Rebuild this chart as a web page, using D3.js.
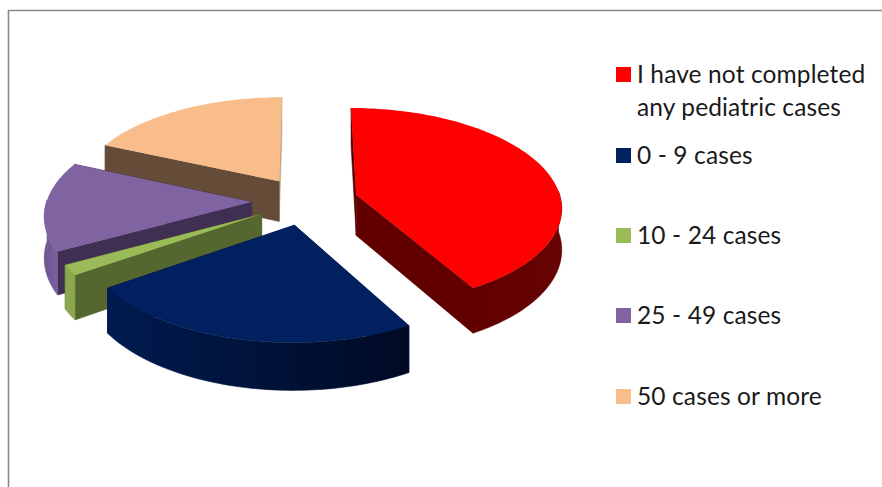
<!DOCTYPE html>
<html>
<head>
<meta charset="utf-8">
<script src="https://cdn.jsdelivr.net/npm/d3@7/dist/d3.min.js"></script>
<style>
html,body{margin:0;padding:0;background:#fff}
svg{display:block}
text{font-family:Lato,"Open Sans",sans-serif;fill:#1a1a1a}
</style>
</head>
<body>
<svg id="chart" width="882" height="487"></svg>
<script>
// Survey shares, in percent
const categories = ["I have not completed|any pediatric cases", "0 - 9 cases", "10 - 24 cases", "25 - 49 cases", "50 cases or more"];
const shares = [41.8, 23.6, 1.7, 14.5, 18.4];

// Fills per slice: top face, radial wall at the start edge, radial wall at the end edge, outer wall from/to
const topColors   = ["#ff0000", "#002060", "#9bbb59", "#8064a2", "#f8bd8b"];
const startWalls  = ["#5c0000", "#001a4d", "#55662e", "#3f2f52", "#654c38"];
const endWalls    = ["#620000", "#001a4d", "#55662e", "#3f2f52", "#c9a07c"];
const outerFrom   = ["#620000", "#001b50", "#8aa84e", "#6f5690", "#654c38"];
const outerTo     = ["#660404", "#000a24", "#8aa84e", "#7a5f9c", "#c9a07c"];
const explosions  = [0.255, 0.245, 0.25, 0.265, 0.245];
const legendRows  = [83, 164, 244, 324, 405];

const svg = d3.select("#chart");

// Chart frame: only its top and left edges fall inside the window
const frame = svg.append("g").attr("stroke", "#8a8a8a").attr("stroke-width", 1.6).attr("fill", "none");
frame.append("path").attr("d", "M8.5,487V10.5H882");

// Projection of the tilted disc: unit coordinates u (right) and v (towards the viewer)
const view = { cx: 306, cy: 201, rx: 205, ry: 98, persp: 0.115, depth: 41 };
const toX = d3.scaleLinear().domain([-1, 1]).range([-view.rx, view.rx]);
const toY = d3.scaleLinear().domain([-1, 1]).range([-view.ry, view.ry]);
function project(u, v, drop) {
  const s = 1 / (1 - view.persp * v);
  return [view.cx + toX(u) * s, view.cy + toY(v) * s + (drop ? view.depth * s : 0)];
}

const pieLayout = d3.pie().sort(null).value(d => d)(shares);
const line = d3.line();
const defs = svg.append("defs");

function rimPoints(d, ox, oy) {
  const n = Math.max(4, Math.ceil((d.endAngle - d.startAngle) * 40));
  return d3.range(n + 1).map(i => {
    const a = d.startAngle + (d.endAngle - d.startAngle) * i / n;
    return { a, u: ox + Math.sin(a), v: oy - Math.cos(a) };
  });
}

// Back-to-front painting order
const order = [4, 3, 2, 0, 1];
const pie = svg.append("g");

order.forEach(i => {
  const d = pieLayout[i];
  const mid = (d.startAngle + d.endAngle) / 2;
  const ox = Math.sin(mid) * explosions[i], oy = -Math.cos(mid) * explosions[i];
  const rim = rimPoints(d, ox, oy);
  const top = rim.map(p => project(p.u, p.v, false));
  const low = rim.map(p => project(p.u, p.v, true));
  const apexTop = project(ox, oy, false), apexLow = project(ox, oy, true);
  const g = pie.append("g");

  // Edge walls; a hairline of the same fill closes the seams between faces
  g.append("path").attr("fill", endWalls[i]).attr("stroke", endWalls[i]).attr("stroke-width", 0.6)
    .attr("d", line([apexTop, top[top.length - 1], low[low.length - 1], apexLow]) + "Z");
  g.append("path").attr("fill", startWalls[i]).attr("stroke", startWalls[i]).attr("stroke-width", 0.6)
    .attr("d", line([apexTop, top[0], low[0], apexLow]) + "Z");

  // Curved wall: only the stretch of the rim that faces the viewer
  const facing = rim.filter(p => -Math.cos(p.a) > -0.04);
  if (facing.length > 1) {
    const upper = facing.map(p => project(p.u, p.v, false));
    const lower = facing.map(p => project(p.u, p.v, true));
    const xs = upper.map(p => p[0]);
    const grad = defs.append("linearGradient").attr("id", "outer" + i)
      .attr("gradientUnits", "userSpaceOnUse")
      .attr("x1", d3.min(xs)).attr("x2", d3.max(xs)).attr("y1", 0).attr("y2", 0);
    grad.append("stop").attr("offset", 0).attr("stop-color", outerFrom[i]);
    grad.append("stop").attr("offset", 1).attr("stop-color", outerTo[i]);
    g.append("path").attr("fill", `url(#outer${i})`)
      .attr("stroke", `url(#outer${i})`).attr("stroke-width", 0.6)
      .attr("d", line(upper.concat(lower.reverse())) + "Z");
  }

  // Top face
  g.append("path").attr("fill", topColors[i])
    .attr("d", line([apexTop].concat(top)) + "Z");
});

// Legend
const legend = svg.append("g");
categories.forEach((c, i) => {
  const y = legendRows[i];
  legend.append("rect").attr("x", 616).attr("y", y - 16).attr("width", 15).attr("height", 15).attr("fill", topColors[i]);
  c.split("|").forEach((t, j) => {
    legend.append("text").attr("x", 637).attr("y", y + j * 33)
      .attr("font-size", 24.5).attr("letter-spacing", 0.12).text(t);
  });
});
</script>
</body>
</html>
